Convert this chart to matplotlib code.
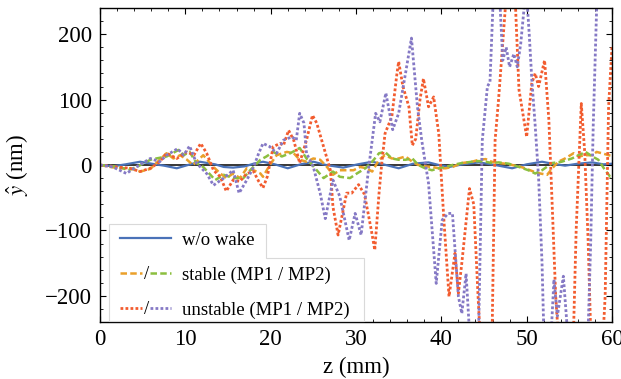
import matplotlib
matplotlib.use("Agg")
import matplotlib.pyplot as plt
from matplotlib.legend_handler import HandlerBase
from matplotlib.lines import Line2D
from matplotlib.patches import Polygon
from matplotlib.transforms import IdentityTransform
from matplotlib.ticker import MultipleLocator
import matplotlib.text as mtext

plt.rcParams['font.family'] = ['Liberation Serif', 'DejaVu Serif']
plt.rcParams['mathtext.fontset'] = 'stix'
plt.rcParams['font.size'] = 16.5

# ---------------- data ----------------
blue_z = [0, 1.5, 3, 4.7, 6.5, 7.5, 9.0, 10.3, 11.7, 13.5,
          14.5, 15.6, 17, 18, 19.1, 20.5, 22, 23.5, 25, 26.5,
          28.5, 30.2, 31.9, 33.5, 35, 36.7, 38.5, 39.7, 40.9, 42.5,
          44.4, 46.3, 48.3, 50, 51.8, 53, 54.5, 56, 57.7, 59, 60]
blue_v = [0, -2, 1, 5, 1, -1, -5, 0, 5, 1,
          -3, -4, -2, 2, 5, 1, -5, 1, 5, 0,
          -4, 1, 5, 0, -5, 2, 4, 0, -3, 1,
          4, 0, -5, 1, 5, 2, -1, 2, 4, 1, 2]

orange_z = [0, 1.2, 2.3, 3.5, 4.7, 5.9, 6.6, 7.8, 8.6, 9.4,
            10.2, 10.9, 12.1, 13.3, 14.1, 14.8, 15.6, 16.4, 17.2, 18.0,
            18.8, 19.1, 19.9, 20.7, 21.9, 22.7, 23.4, 24.2, 25.0, 25.8,
            26.6, 27.3, 28.1, 28.9, 29.7, 30.5, 31.2, 31.9, 32.7, 33.4,
            34.2, 35.0, 35.8, 36.6, 37.3, 38.1, 38.9, 39.7, 40.5, 41.3,
            42.4, 43.6, 44.4, 45.2, 45.9, 46.7, 47.5, 48.3, 49.1, 49.8,
            50.8, 51.6, 52.4, 53.0, 53.7, 54.5, 55.5, 56.1, 56.9, 57.7,
            58.2, 58.8, 59.6, 60]
orange_v = [0, -3, -5, -5, -10, -6, 3, 18, 10, 15,
            8, 0, 15, -3, -13, -20, -13, -20, -5, -8,
            -13, -18, 0, 15, 20, 18, 8, 5, 10, 8,
            -3, -15, -8, -8, -8, -3, -5, -10, 8, 15,
            10, 10, 13, 5, 0, -2, -3, -5, -5, -3,
            3, 5, 8, 9, 5, 3, 2, 0, -2, -5,
            -10, -13, -15, -5, 5, 10, 18, 13, 15, 15,
            20, 18, 15, 14]

green_z = [0, 1.6, 2.3, 3.3, 4.3, 5.9, 6.6, 7.8, 9.2, 9.8,
           10.5, 11.3, 12.1, 13.5, 14.5, 15.6, 16.8, 17.6, 18.8, 19.5,
           20.3, 21.3, 22.3, 23.4, 24.2, 25.4, 26.2, 27.3, 28.1, 29.3,
           30.1, 31.1, 31.9, 32.7, 33.4, 34.2, 35.0, 35.8, 36.6, 37.3,
           38.1, 38.9, 39.7, 40.5, 41.3, 42.4, 43.6, 44.4, 45.2, 45.9,
           46.7, 47.9, 49.1, 50.2, 51.0, 51.8, 53.0, 54.1, 55.3, 56.1,
           56.9, 57.7, 58.4, 59.2, 59.8, 60]
green_v = [0, -2, -3, -8, -3, 8, 10, 13, 23, 15,
           20, 3, -3, -23, -15, -20, -20, -8, 8, 13,
           20, 13, 18, 26, 10, -8, -20, -10, -18, -20,
           -13, -5, 5, 18, 20, 10, 8, 8, 10, 0,
           -5, -8, -5, -3, 0, 3, 5, 6, 5, 3,
           4, 2, -3, -8, -13, -8, 3, 5, 10, 15,
           20, 13, 8, -8, -18, -17]

red_z = [0, 2, 3.5, 4.7, 5.9, 7.0, 7.8, 9.0, 10.2, 11.0,
         11.8, 12.5, 13.3, 14.1, 14.8, 15.6, 16.4, 17.2, 18.0, 18.6,
         19.1, 19.6, 20.0, 20.3, 21.1, 21.5, 22.1, 22.7, 23.4, 24.2,
         24.9, 25.4, 26.2, 27.0, 27.3, 27.9, 28.5, 28.9, 29.5, 30.3,
         31.0, 31.8, 32.2, 32.7, 33.0, 33.4, 34.2, 34.8, 35.0, 35.5,
         36.2, 36.6, 37.0, 37.5, 37.9, 38.5, 39.1, 39.7, 40.3, 40.9,
         41.6, 42.0, 42.4, 43.3, 43.8, 44.3, 44.7, 45.9, 46.3, 46.7,
         47.5, 48.0, 48.3, 48.7, 49.1, 50.0, 50.6, 51.0, 51.4, 52.1,
         52.6, 53.0, 53.4, 53.9, 55.4, 55.8, 56.4, 56.8, 57.2, 57.6,
         58.8, 59.2, 59.6, 60]
red_v = [0, -3, -5, -10, -5, 5, 18, 10, 20, 15,
         33, 18, -8, -18, -40, -23, -25, -13, -10, -25,
         -35, -18, 8, 28, 33, 30, 53, 38, 3, 38,
         76, 64, 28, -8, -64, -107, -69, -43, -43, -30,
         -45, -100, -130, -43, 0, 48, 74, 140, 158, 120,
         89, 30, 40, 100, 132, 89, 104, 48, -84, -201,
         -135, -196, -150, -36, -60, -200, -300, -300, 38, 99,
         240, 300, 300, 240, 115, 43, 125, 140, 120, 160,
         69, -64, -200, -300, -300, -100, 94, 20, -115, -300,
         -300, -200, 89, 181]

purple_z = [0, 1.5, 3.1, 4.0, 5.9, 7.0, 7.8, 9.1, 9.8, 10.5,
            11.3, 12.5, 13.3, 14.5, 15.6, 16.3, 17.2, 18.0, 18.6, 19.1,
            19.9, 20.7, 21.5, 22.5, 23.0, 23.4, 23.9, 24.2, 25.0, 25.8,
            26.4, 27.0, 27.3, 28.1, 29.2, 29.9, 30.6, 31.5, 32.3, 32.8,
            33.5, 34.3, 35.0, 35.8, 36.5, 37.2, 37.7, 38.5, 39.4, 40.1,
            40.8, 41.3, 42.0, 42.4, 42.9, 43.5, 44.3, 44.8, 45.4, 45.7,
            46.1, 46.5, 46.9, 47.2, 47.6, 48.0, 48.5, 48.9, 49.3, 49.7,
            50.0, 50.3, 50.6, 51.0, 51.4, 51.8, 52.1, 52.7, 53.2, 53.6,
            54.3, 54.7, 55.0, 57.1, 57.5, 57.8, 58.2, 58.6, 60]
purple_v = [0, -3, -13, -5, 10, 5, 15, 25, 15, 29,
            3, -13, -31, -20, -8, -43, -23, -3, 18, 33,
            28, 18, 38, 43, 38, 79, 64, 18, -3, -43,
            -82, -43, -23, -48, -115, -74, -107, -3, 79, 66,
            110, 54, 79, 140, 194, 89, 38, -28, -181, -84,
            -74, -74, -201, -227, -166, -300, -300, 38, 120, 127,
            260, 300, 240, 160, 180, 150, 170, 150, 185, 240,
            260, 200, 131, 60, -20, -150, -300, -300, -175, -231,
            -170, -240, -300, -300, -120, 60, 240, 300, 300]

labels = ['w/o wake', 'stable (MP1 / MP2)', 'unstable (MP1 / MP2)']
x_ticks = [0, 10, 20, 30, 40, 50, 60]
y_ticks = [-200, -100, 0, 100, 200]

C_BLUE = '#4a72b8'
C_ORANGE = '#eaa02a'
C_GREEN = '#8cbf3f'
C_RED = '#f25c2f'
C_PURPLE = '#8579c5'
DASH = (0, (2.6, 1.3))
DOT = (0, (1.0, 0.8))
LW_SOLID = 1.6
LW_DASH = 1.8
LW_DOT = 2.0


class SlashPair:
    def __init__(self, c1, c2, ls, lw):
        self.c1, self.c2, self.ls, self.lw = c1, c2, ls, lw


class HandlerSlashPair(HandlerBase):
    def create_artists(self, legend, orig_handle, xdescent, ydescent,
                       width, height, fontsize, trans):
        y = height / 2 - ydescent
        x0 = -xdescent
        l1 = Line2D([x0, x0 + 0.44 * width], [y, y], color=orig_handle.c1,
                    ls=orig_handle.ls, lw=orig_handle.lw, transform=trans)
        l2 = Line2D([x0 + 0.6 * width, x0 + width], [y, y], color=orig_handle.c2,
                    ls=orig_handle.ls, lw=orig_handle.lw, transform=trans)
        t = mtext.Text(x0 + 0.52 * width, y - 0.1 * height, '/', ha='center',
                       va='center', fontsize=fontsize, transform=trans,
                       family=['Liberation Serif', 'DejaVu Serif'])
        return [l1, t, l2]


fig = plt.figure(figsize=(6.21, 3.79), dpi=100)
ax = fig.add_axes([100 / 621, 57 / 379, 512 / 621, 314 / 379])

ax.axhline(0, color='black', lw=1.1, zorder=1.5)
h_blue, = ax.plot(blue_z, blue_v, color=C_BLUE, lw=LW_SOLID, zorder=2)
ax.plot(orange_z, orange_v, color=C_ORANGE, lw=LW_DASH, ls=DASH, zorder=2.1)
ax.plot(green_z, green_v, color=C_GREEN, lw=LW_DASH, ls=DASH, zorder=2.2)
ax.plot(red_z, red_v, color=C_RED, lw=LW_DOT, ls=DOT, zorder=2.3)
ax.plot(purple_z, purple_v, color=C_PURPLE, lw=LW_DOT, ls=DOT, zorder=2.4)

ax.set_xlim(0, 60)
ax.set_ylim(-240, 240)
ax.set_xticks(x_ticks)
ax.set_yticks(y_ticks)
ax.xaxis.set_minor_locator(MultipleLocator(2))
ax.yaxis.set_minor_locator(MultipleLocator(20))
ax.tick_params(which='both', direction='in', top=True, right=True)
ax.tick_params(which='major', length=4, width=0.8)
ax.tick_params(which='minor', length=2, width=0.6)
ax.tick_params(axis='x', pad=5)
ax.tick_params(axis='y', pad=6)
for s in ax.spines.values():
    s.set_linewidth(1.0)

ax.set_xlabel('z (mm)')
ax.set_ylabel(r'$\hat{y}$ (nm)')
ax.xaxis.set_label_coords(0.5, -0.11)
ax.yaxis.set_label_coords(-0.137, 0.5)

sp_stable = SlashPair(C_ORANGE, C_GREEN, DASH, LW_DASH)
sp_unstable = SlashPair(C_RED, C_PURPLE, DOT, LW_DOT)
EXTRA = 4.6  # extra left padding (px) of the frame
leg = ax.legend([h_blue, sp_stable, sp_unstable], labels,
                handler_map={SlashPair: HandlerSlashPair()},
                loc='lower left', bbox_to_anchor=((9 + EXTRA) / 512, -3 / 314),
                borderaxespad=0, frameon=False, fontsize=13.5,
                handlelength=2.7, handletextpad=0.6, labelspacing=0.94,
                borderpad=0.34)
leg.set_zorder(5)

fig.canvas.draw()
r = fig.canvas.get_renderer()
bb = leg.get_window_extent(r)
axb = ax.get_window_extent(r)
t0 = leg.get_texts()[0].get_window_extent(r)
t1 = leg.get_texts()[1].get_window_extent(r)
x_left = bb.x0 - EXTRA
xs = t0.x1 + 12
x_right = bb.x1 + 8
y_bot = axb.y0 + 1
y_top = bb.y1 + 1
ys = ((t0.y0 + t0.y1) / 2 + (t1.y0 + t1.y1) / 2) / 2
pts = [(x_left, y_bot), (x_right, y_bot), (x_right, ys), (xs, ys), (xs, y_top), (x_left, y_top)]
poly = Polygon(pts, closed=True, transform=IdentityTransform(), facecolor='white',
               edgecolor='0.85', lw=0.8, zorder=4.9)
ax.add_artist(poly)
poly.set_clip_on(False)

fig.savefig('out.png', dpi=100)
